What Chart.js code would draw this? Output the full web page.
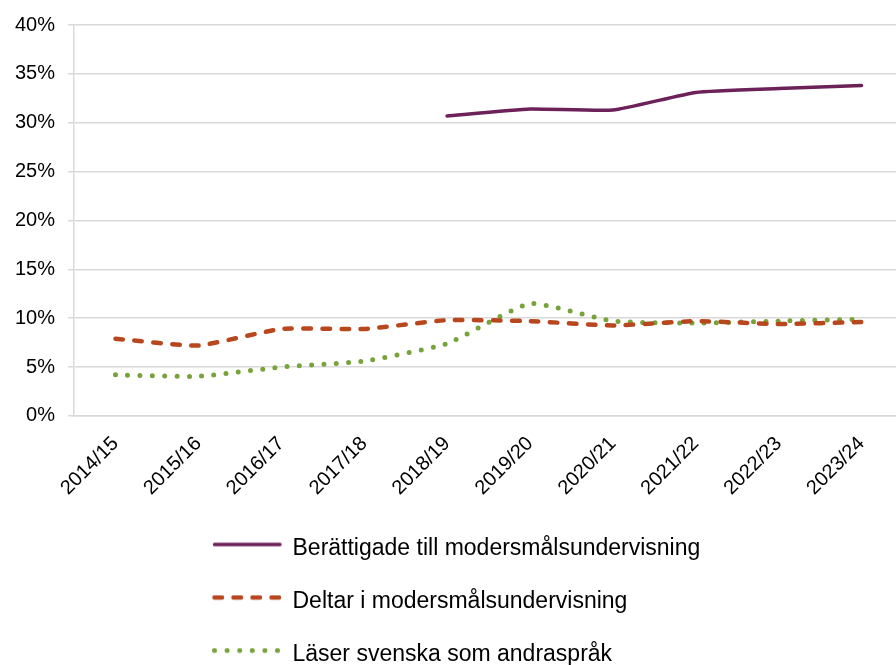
<!DOCTYPE html>
<html>
<head>
<meta charset="utf-8">
<script src="https://cdn.jsdelivr.net/npm/chart.js@4/dist/chart.umd.min.js"></script>
<style>
  html, body { margin: 0; padding: 0; background: #fff; overflow: hidden; }
  #wrap { width: 904px; height: 665px; }
</style>
</head>
<body>
<div id="wrap"><canvas id="chart"></canvas></div>
<script>
const years = ["2014/15", "2015/16", "2016/17", "2017/18", "2018/19", "2019/20", "2020/21", "2021/22", "2022/23", "2023/24"];
const entitled = [null, null, null, null, 30.7, 31.4, 31.3, 33.1, 33.5, 33.8];
const participating = [7.9, 7.2, 8.9, 8.9, 9.8, 9.7, 9.25, 9.7, 9.4, 9.6];
const secondLanguage = [4.2, 4.05, 5.0, 5.6, 7.4, 11.5, 9.7, 9.5, 9.7, 9.9];
const yTicks = [0, 5, 10, 15, 20, 25, 30, 35, 40];

const font = "'Liberation Sans', Arial, sans-serif";
const colors = ["#6C2159", "#B8471E", "#78A23A"];
const widths = [3.5, 4.5, 5];
const dashes = [[], [7.5, 11.5], [0, 12.3]];

// small line samples for the legend, so dashes survive
function legendSample(i) {
	const c = document.createElement('canvas');
	c.width = 70;
	c.height = 14;
	const ctx = c.getContext('2d');
	ctx.strokeStyle = colors[i];
	ctx.lineWidth = widths[i];
	ctx.lineCap = 'round';
	ctx.setLineDash(i === 2 ? [0, 12.6] : dashes[i]);
	ctx.beginPath();
	ctx.moveTo(2.5, 3);
	ctx.lineTo(68, 3);
	ctx.stroke();
	return c;
}

// legend rows stacked at a fixed left edge, like the original
const legendPlacer = {
	id: 'legendPlacer',
	afterLayout(chart) {
		const lg = chart.legend;
		lg.left = 183;
		lg.right = 183 + 580;
		lg.top = 507;
		lg.bottom = 700;
		lg.width = 580;
		lg.height = 193;
	}
};

new Chart(document.getElementById('chart'), {
	type: 'line',
	data: {
		labels: years,
		datasets: [
			{
				label: "Berättigade till modersmålsundervisning",
				data: entitled,
				borderColor: colors[0],
				backgroundColor: colors[0],
				borderWidth: widths[0],
				borderCapStyle: 'round',
				pointRadius: 0,
				tension: 0.15,
			},
			{
				label: "Deltar i modersmålsundervisning",
				data: participating,
				borderColor: colors[1],
				backgroundColor: colors[1],
				borderWidth: widths[1],
				borderDash: dashes[1],
				borderCapStyle: 'round',
				pointRadius: 0,
				tension: 0.15,
			},
			{
				label: "Läser svenska som andraspråk",
				data: secondLanguage,
				borderColor: colors[2],
				backgroundColor: colors[2],
				borderWidth: widths[2],
				borderDash: dashes[2],
				borderCapStyle: 'round',
				pointRadius: 0,
				tension: 0.15,
			},
		],
	},
	options: {
		responsive: true,
		maintainAspectRatio: false,
		animation: false,
		layout: { padding: { top: 20, left: 2, right: 1, bottom: 33 } },
		plugins: {
			tooltip: { enabled: false },
			legend: {
				position: 'bottom',
				align: 'start',
				maxHeight: 116,
				labels: {
					color: '#000',
					font: { family: font, size: 23 },
					usePointStyle: true,
					pointStyleWidth: 68,
					padding: 30,
					generateLabels(chart) {
						const items = Chart.defaults.plugins.legend.labels.generateLabels(chart);
						items.forEach((it, i) => { it.pointStyle = legendSample(i); });
						return items;
					},
				},
			},
		},
		scales: {
			x: {
				offset: true,
				grid: { display: false, drawTicks: false },
				border: { display: true, color: '#d9d9d9', width: 1.5 },
				afterFit(scale) {
					scale.paddingLeft = 0;
					scale.paddingRight = 0;
				},
				ticks: {
					color: '#000',
					font: { family: font, size: 20 },
					maxRotation: 45,
					minRotation: 45,
					padding: 16,
					autoSkip: false,
				},
			},
			y: {
				min: 0,
				max: 40,
				afterBuildTicks(axis) {
					axis.ticks = yTicks.map(v => ({ value: v }));
				},
				grid: { color: '#d9d9d9', lineWidth: 1.5, tickLength: 6 },
				border: { display: true, color: '#d9d9d9', width: 1.5 },
				ticks: {
					color: '#000',
					font: { family: font, size: 20 },
					padding: 13,
					callback: v => v + '%',
				},
			},
		},
	},
	plugins: [legendPlacer],
});
</script>
</body>
</html>
